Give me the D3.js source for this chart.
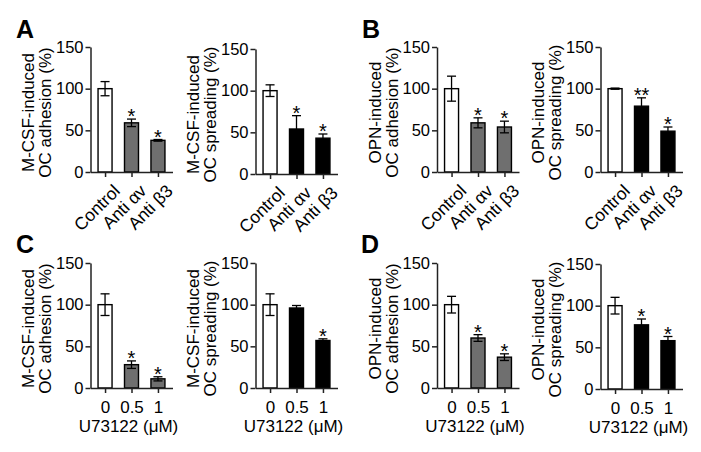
<!DOCTYPE html>
<html><head><meta charset="utf-8">
<script src="https://cdn.jsdelivr.net/npm/d3@7"></script>
<style>
body{margin:0;background:#fff}
svg{display:block}
text{font-family:"Liberation Sans",Arial,Helvetica,sans-serif;fill:#000}
</style>
</head><body>
<svg id="chart" width="701" height="452"></svg>
<script>
// ---------- data ----------
const treatmentLabels = ["Control", "Anti αv", "Anti β3"];
const doseLabels = ["0", "0.5", "1"];
const yTickValues = [0, 50, 100, 150];

const mcsfAdhesionAb = [100, 59, 38];
const mcsfAdhesionAbErr = [8.5, 4.5, 1];
const mcsfAdhesionAbSig = ["", "*", "*"];

const mcsfSpreadingAb = [100, 54, 43];
const mcsfSpreadingAbErr = [7, 16, 5];
const mcsfSpreadingAbSig = ["", "*", "*"];

const opnAdhesionAb = [100, 59, 54];
const opnAdhesionAbErr = [15, 6, 7];
const opnAdhesionAbSig = ["", "*", "*"];

const opnSpreadingAb = [100, 79, 49];
const opnSpreadingAbErr = [0.7, 10, 5];
const opnSpreadingAbSig = ["", "**", "*"];

const mcsfAdhesionU = [100, 28, 11];
const mcsfAdhesionUErr = [13, 4.5, 2.5];
const mcsfAdhesionUSig = ["", "*", "*"];

const mcsfSpreadingU = [100, 96, 57];
const mcsfSpreadingUErr = [13, 3, 2];
const mcsfSpreadingUSig = ["", "", "*"];

const opnAdhesionU = [100, 60, 37];
const opnAdhesionUErr = [10, 4, 4];
const opnAdhesionUSig = ["", "*", "*"];

const opnSpreadingU = [100, 77, 58];
const opnSpreadingUErr = [10, 7, 5];
const opnSpreadingUSig = ["", "*", "*"];

const panelLetters = ["A", "B", "C", "D"];
const doseAxisTitle = "U73122 (μM)";

// ---------- layout / style ----------
const GRAY = "#6f6f6f", BLACK = "#000", AXIS = "#222";
const svg = d3.select("#chart");

const panels = [
  {cats: treatmentLabels, mean: mcsfAdhesionAb, err: mcsfAdhesionAbErr, sig: mcsfAdhesionAbSig,
   title: ["M-CSF-induced", "OC adhesion (%)"], fill: GRAY, ax: 90.5, y0: 172, y150: 47, rotated: true},
  {cats: treatmentLabels, mean: mcsfSpreadingAb, err: mcsfSpreadingAbErr, sig: mcsfSpreadingAbSig,
   title: ["M-CSF-induced", "OC spreading (%)"], fill: BLACK, ax: 255.5, y0: 174, y150: 49, rotated: true},
  {cats: treatmentLabels, mean: opnAdhesionAb, err: opnAdhesionAbErr, sig: opnAdhesionAbSig,
   title: ["OPN-induced", "OC adhesion (%)"], fill: GRAY, ax: 437, y0: 172, y150: 47, rotated: true},
  {cats: treatmentLabels, mean: opnSpreadingAb, err: opnSpreadingAbErr, sig: opnSpreadingAbSig,
   title: ["OPN-induced", "OC spreading (%)"], fill: BLACK, ax: 600.5, y0: 172, y150: 47, rotated: true},
  {cats: doseLabels, mean: mcsfAdhesionU, err: mcsfAdhesionUErr, sig: mcsfAdhesionUSig,
   title: ["M-CSF-induced", "OC adhesion (%)"], fill: GRAY, ax: 90.5, y0: 388, y150: 263, rotated: false},
  {cats: doseLabels, mean: mcsfSpreadingU, err: mcsfSpreadingUErr, sig: mcsfSpreadingUSig,
   title: ["M-CSF-induced", "OC spreading (%)"], fill: BLACK, ax: 255.5, y0: 388, y150: 263, rotated: false},
  {cats: doseLabels, mean: opnAdhesionU, err: opnAdhesionUErr, sig: opnAdhesionUSig,
   title: ["OPN-induced", "OC adhesion (%)"], fill: GRAY, ax: 437, y0: 388, y150: 263, rotated: false},
  {cats: doseLabels, mean: opnSpreadingU, err: opnSpreadingUErr, sig: opnSpreadingUSig,
   title: ["OPN-induced", "OC spreading (%)"], fill: BLACK, ax: 600.5, y0: 389, y150: 264, rotated: false}
];

const letterPos = [[16, 38], [362, 38], [16, 253], [361, 253]];

function drawPanel(p) {
  const g = svg.append("g");
  const y = d3.scaleLinear().domain([0, 150]).range([p.y0, p.y150]);
  const x = d3.scalePoint().domain(p.cats).range([p.ax, p.ax + 82]).padding(0.55);
  const bw = 14;

  // bars
  g.selectAll("rect.bar").data(p.cats).join("rect")
    .attr("x", d => x(d) - bw / 2)
    .attr("width", bw)
    .attr("y", (d, i) => y(p.mean[i]))
    .attr("height", (d, i) => y(0) - y(p.mean[i]))
    .attr("fill", (d, i) => i === 0 ? "#fff" : p.fill)
    .attr("stroke", "#000").attr("stroke-width", 1.4);

  // error bars
  const eb = g.selectAll("g.err").data(p.cats).join("g");
  eb.append("line")
    .attr("x1", d => x(d)).attr("x2", d => x(d))
    .attr("y1", (d, i) => y(p.mean[i] + p.err[i]))
    .attr("y2", (d, i) => y(p.mean[i] - p.err[i]));
  eb.append("line")
    .attr("x1", d => x(d) - 4.5).attr("x2", d => x(d) + 4.5)
    .attr("y1", (d, i) => y(p.mean[i] + p.err[i]))
    .attr("y2", (d, i) => y(p.mean[i] + p.err[i]));
  eb.append("line")
    .attr("x1", d => x(d) - 4.5).attr("x2", d => x(d) + 4.5)
    .attr("y1", (d, i) => y(p.mean[i] - p.err[i]))
    .attr("y2", (d, i) => y(p.mean[i] - p.err[i]));
  eb.selectAll("line").attr("stroke", "#000").attr("stroke-width", 1.3);

  // significance
  g.selectAll("text.sig").data(p.cats).join("text")
    .attr("x", d => x(d))
    .attr("y", (d, i) => y(p.mean[i] + p.err[i]) + 4)
    .attr("text-anchor", "middle")
    .attr("font-size", 20)
    .text((d, i) => p.sig[i]);

  // y axis
  const ya = g.append("g").attr("transform", `translate(${p.ax},0)`)
    .call(d3.axisLeft(y).tickValues(yTickValues).tickSize(5).tickSizeOuter(0).tickPadding(2));
  ya.selectAll("text").attr("font-size", 16.5);
  // x axis
  const xa = g.append("g").attr("transform", `translate(0,${p.y0})`)
    .call(d3.axisBottom(x).tickSize(5).tickSizeOuter(0).tickPadding(8));
  [ya, xa].forEach(a => {
    a.attr("font-family", null);
    a.select(".domain").attr("stroke", AXIS).attr("stroke-width", 1.5);
    a.selectAll(".tick line").attr("stroke", AXIS).attr("stroke-width", 1.5);
  });
  if (p.rotated) {
    xa.selectAll(".tick text").remove();
    g.selectAll("text.xl").data(p.cats).join("text")
      .attr("transform", d => `translate(${x(d) + 16},${p.y0 + 20}) rotate(-45)`)
      .attr("text-anchor", "end")
      .attr("font-size", 17.5)
      .text(d => d);
  } else {
    xa.selectAll(".tick text").attr("font-size", 17);
    g.append("text")
      .attr("x", p.ax + 38).attr("y", p.y0 + 44)
      .attr("text-anchor", "middle").attr("font-size", 17)
      .text(doseAxisTitle);
  }

  // y title
  const cy = (p.y0 + p.y150) / 2 + 3;
  p.title.forEach((t, k) => {
    g.append("text")
      .attr("transform", `translate(${p.ax - 62 + k * 17},${cy}) rotate(-90)`)
      .attr("text-anchor", "middle")
      .attr("dy", "0.35em")
      .attr("font-size", 17)
      .text(t);
  });
}

panels.forEach(drawPanel);

svg.selectAll("text.letter").data(panelLetters).join("text")
  .attr("x", (d, i) => letterPos[i][0])
  .attr("y", (d, i) => letterPos[i][1])
  .attr("font-size", 25).attr("font-weight", "bold")
  .text(d => d);
</script>
</body></html>
